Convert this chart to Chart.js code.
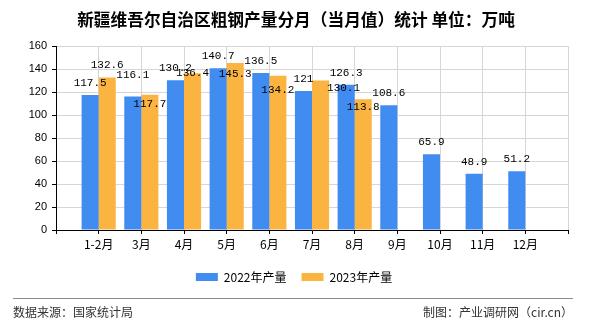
<!DOCTYPE html>
<html>
<head>
<meta charset="utf-8">
<script src="https://cdn.jsdelivr.net/npm/chart.js@4/dist/chart.umd.min.js"></script>
<style>
  body { margin: 0; background: #fff; }
</style>
</head>
<body>
<canvas id="steelChart" width="590" height="330"></canvas>
<script>
// 新疆维吾尔自治区粗钢产量分月（当月值），万吨
var months = ['1-2月', '3月', '4月', '5月', '6月', '7月', '8月', '9月', '10月', '11月', '12月'];
var prod2022 = [117.5, 116.1, 130.2, 140.7, 136.5, 121, 126.3, 108.6, 65.9, 48.9, 51.2];
var prod2023 = [132.6, 117.7, 136.4, 145.3, 134.2, 130.1, 113.8, null, null, null, null];
var yTicks = [0, 20, 40, 60, 80, 100, 120, 140, 160];

// label nudges (px) so overlapping value labels sit like the original
var nudge2022 = [[0, 0], [0, -9], [0, 0], [0, 0], [0, 0], [0, 0], [0, 0], [0, 0], [0, 0], [0, 0], [0, 0]];
var nudge2023 = [[0, 0], [0, 21], [0, 12], [0, 23], [0, 26], [23, 20], [0, 20], [0, 0], [0, 0], [0, 0], [0, 0]];

var blue = '#418cf0';
var orange = '#fcb440';
var gridColor = '#d6d6d6';

// empty slot at each end so the months sit on the inner grid lines
var labels = [''].concat(months, ['']);
function pad(arr) { return [null].concat(arr, [null]); }

var valueLabels = {
    id: 'valueLabels',
    afterDatasetsDraw: function(chart) {
        var ctx = chart.ctx;
        ctx.save();
        ctx.font = '11px "Liberation Mono", monospace';
        ctx.fillStyle = '#000';
        ctx.textAlign = 'center';
        ctx.textBaseline = 'middle';
        [nudge2022, nudge2023].forEach(function(nudge, di) {
            var meta = chart.getDatasetMeta(di);
            var values = chart.data.datasets[di].data;
            meta.data.forEach(function(bar, i) {
                var v = values[i];
                if (v === null || v === undefined) return;
                var n = nudge[i - 1] || [0, 0];
                ctx.fillText(String(v), bar.x + n[0], bar.y - 12 + n[1]);
            });
        });
        ctx.restore();
    }
};

var pageDecor = {
    id: 'pageDecor',
    afterLayout: function(chart) {
        // title and legend in the original are centred on the canvas, not the padded box
        chart.legend.left += 10;
        chart.legend.right += 10;
        chart.titleBlock.left += 12;
        chart.titleBlock.right += 12;
    },
    beforeDraw: function(chart) {
        var ctx = chart.ctx;
        ctx.save();
        ctx.fillStyle = '#fff';
        ctx.fillRect(0, 0, chart.width, chart.height);
        ctx.restore();
    },
    afterDraw: function(chart) {
        var ctx = chart.ctx;
        ctx.save();
        ctx.strokeStyle = '#8c8c8c';
        ctx.lineWidth = 1;
        ctx.beginPath();
        ctx.moveTo(13, 298.5);
        ctx.lineTo(573, 298.5);
        ctx.stroke();
        ctx.fillStyle = '#333';
        ctx.font = '12px "Noto Sans CJK SC", sans-serif';
        ctx.textBaseline = 'middle';
        ctx.textAlign = 'left';
        ctx.fillText('数据来源：国家统计局', 13, 312);
        ctx.textAlign = 'right';
        ctx.fillText('制图：产业调研网（cir.cn）', 573, 312);
        ctx.restore();
    }
};

var ctx = document.getElementById('steelChart').getContext('2d');
var steelChart = new Chart(ctx, {
    type: 'bar',
    data: {
        labels: labels,
        datasets: [
            {
                label: '2022年产量',
                data: pad(prod2022),
                backgroundColor: blue,
                categoryPercentage: 0.8,
                barPercentage: 1.0
            },
            {
                label: '2023年产量',
                data: pad(prod2023),
                backgroundColor: orange,
                categoryPercentage: 0.8,
                barPercentage: 1.0
            }
        ]
    },
    options: {
        responsive: false,
        animation: false,
        devicePixelRatio: 1,
        layout: {
            padding: { left: 0, right: 22, top: 0, bottom: 37 }
        },
        plugins: {
            title: {
                display: true,
                text: '新疆维吾尔自治区粗钢产量分月（当月值）统计 单位：万吨',
                color: '#000',
                font: { family: '"Noto Sans CJK SC", sans-serif', size: 16.7, weight: 'bold' },
                padding: { top: 10, bottom: 16 }
            },
            legend: {
                position: 'bottom',
                labels: {
                    boxWidth: 22,
                    boxHeight: 8,
                    padding: 15,
                    color: '#000',
                    font: { family: '"Noto Sans CJK SC", sans-serif', size: 12 }
                }
            },
            tooltip: { enabled: false }
        },
        scales: {
            x: {
                offset: false,
                grid: {
                    offset: false,
                    color: gridColor,
                    tickColor: '#000',
                    tickLength: 4
                },
                border: { color: '#000' },
                ticks: {
                    autoSkip: false,
                    maxRotation: 0,
                    padding: 3,
                    color: '#000',
                    font: { family: '"Noto Sans CJK SC", sans-serif', size: 12 }
                },
                afterFit: function(scale) { scale.height = 26; }
            },
            y: {
                min: 0,
                max: 160,
                afterBuildTicks: function(scale) {
                    scale.ticks = yTicks.map(function(v) { return { value: v }; });
                },
                grid: {
                    color: gridColor,
                    tickColor: '#000',
                    tickLength: 4
                },
                border: { color: '#000' },
                ticks: {
                    padding: 5,
                    color: '#000',
                    font: { family: '"Liberation Sans", Arial, sans-serif', size: 11 }
                },
                afterFit: function(scale) { scale.width = 56; }
            }
        }
    },
    plugins: [valueLabels, pageDecor]
});
</script>
</body>
</html>
